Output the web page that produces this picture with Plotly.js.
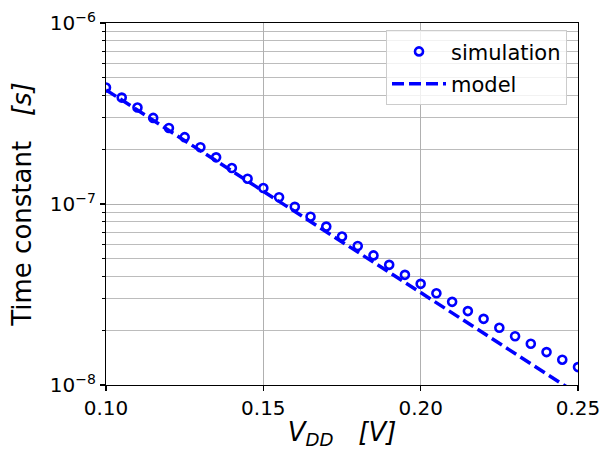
<!DOCTYPE html>
<html>
<head>
<meta charset="utf-8">
<script src="https://cdn.plot.ly/plotly-3.0.1.min.js"></script>
<style>html,body{margin:0;padding:0;background:#fff;}#chart{width:604px;height:450px;}</style>
</head>
<body>
<div id="chart"></div>
<script>
var simVdd = [0.100,0.105,0.110,0.115,0.120,0.125,0.130,0.135,0.140,0.145,0.150,0.155,0.160,0.165,0.170,0.175,0.180,0.185,0.190,0.195,0.200,0.205,0.210,0.215,0.220,0.225,0.230,0.235,0.240,0.245,0.250];
var simTau = [4.40e-7,3.87e-7,3.41e-7,2.99e-7,2.63e-7,2.34e-7,2.06e-7,1.81e-7,1.58e-7,1.38e-7,1.225e-7,1.09e-7,9.66e-8,8.51e-8,7.50e-8,6.61e-8,5.86e-8,5.20e-8,4.61e-8,4.06e-8,3.62e-8,3.21e-8,2.88e-8,2.56e-8,2.32e-8,2.07e-8,1.86e-8,1.69e-8,1.52e-8,1.38e-8,1.256e-8];
var modelVdd = [0.10,0.15,0.20,0.25];
var modelTau = [4.27e-7,1.17e-7,3.24e-8,8.9e-9];
var xTickVals = [0.10,0.15,0.20,0.25];
var xTickText = ["0.10","0.15","0.20","0.25"];
var yTickVals = [1e-8,1e-7,1e-6];
var yTickText = ["10<sup>\u22128</sup>","10<sup>\u22127</sup>","10<sup>\u22126</sup>"];
var yMinorVals = [2e-8,3e-8,4e-8,5e-8,6e-8,7e-8,8e-8,9e-8,2e-7,3e-7,4e-7,5e-7,6e-7,7e-7,8e-7,9e-7];

var font = "DejaVu Sans, sans-serif";
var traces = [
  {x: simVdd, y: simTau, type: 'scatter', mode: 'markers', name: 'simulation', legendgroup: 'a',
   marker: {symbol: 'circle-open', size: 8, color: '#0000ff', line: {width: 2.6, color: '#0000ff'}}},
  {x: modelVdd, y: modelTau, type: 'scatter', mode: 'lines', name: 'model', legendgroup: 'b',
   line: {color: '#0000ff', width: 3.5, dash: '12px,5px'}}
];
var layout = {
  width: 604, height: 450,
  margin: {l: 106, r: 26, t: 23, b: 65},
  paper_bgcolor: '#fff', plot_bgcolor: '#fff',
  font: {family: font, size: 20, color: '#000'},
  showlegend: true,
  legend: {x: 0.9767, y: 0.98, xanchor: 'right', yanchor: 'top',
    bgcolor: 'rgba(255,255,255,0.8)', bordercolor: '#cccccc', borderwidth: 1,
    font: {family: font, size: 21, color: '#000'}, itemwidth: 54,
    traceorder: 'grouped', tracegroupgap: 2},
  xaxis: {range: [0.1, 0.25], tickmode: 'array', tickvals: xTickVals, ticktext: xTickText,
    showline: true, mirror: true, linecolor: '#000', linewidth: 1.2,
    ticks: 'outside', ticklen: 5, tickwidth: 1.2, tickcolor: '#000',
    showgrid: true, gridcolor: '#b0b0b0', gridwidth: 1, zeroline: false,
    tickfont: {family: font, size: 20, color: '#000'},
    title: {text: '<i>V<sub>DD</sub></i>\u00a0\u00a0\u00a0<i>[V]</i>', font: {family: font, size: 26, color: '#000'}, standoff: 6}},
  yaxis: {type: 'log', range: [-8, -6], tickmode: 'array', tickvals: yTickVals, ticktext: yTickText,
    showline: true, mirror: true, linecolor: '#000', linewidth: 1.2,
    ticks: 'outside', ticklen: 5, tickwidth: 1.2, tickcolor: '#000',
    showgrid: true, gridcolor: '#b0b0b0', gridwidth: 1, zeroline: false,
    tickfont: {family: font, size: 20, color: '#000'},
    minor: {tickmode: 'array', tickvals: yMinorVals, ticks: 'outside', ticklen: 3, tickwidth: 1, tickcolor: '#000',
      showgrid: true, gridcolor: '#bcbcbc', gridwidth: 1},
    title: {text: 'Time constant\u00a0\u00a0\u00a0<i>[s]</i>', font: {family: font, size: 26, color: '#000'}, standoff: 10}}
};
Plotly.newPlot('chart', traces, layout, {displayModeBar: false, staticPlot: true});
</script>
</body>
</html>
